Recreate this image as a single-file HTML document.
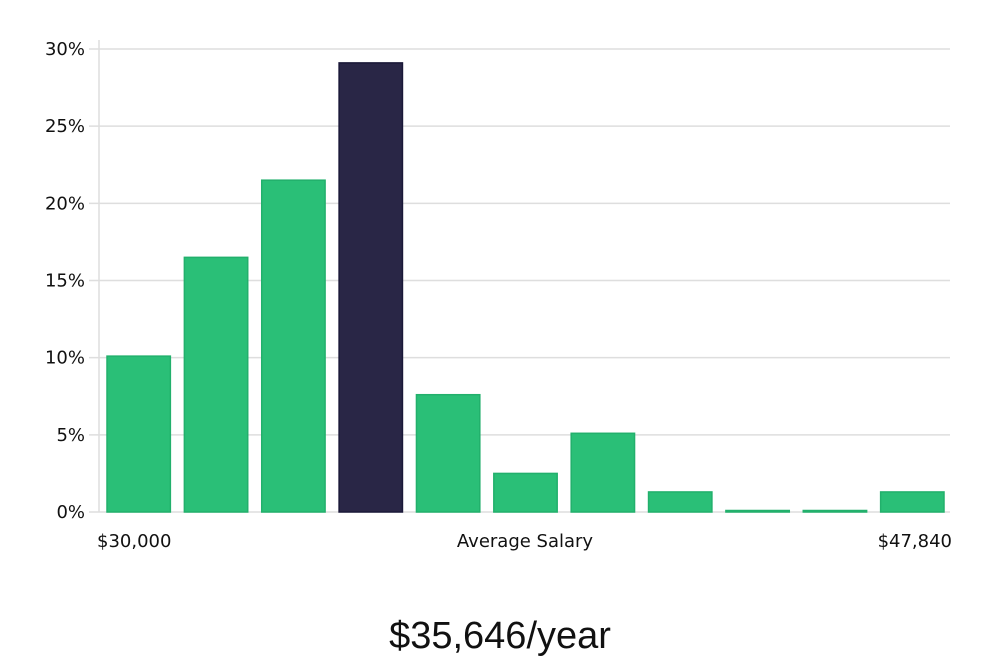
<!DOCTYPE html>
<html><head><meta charset="utf-8"><style>
body{margin:0;background:#fff;width:1000px;height:660px;overflow:hidden}
svg text{font-family:"DejaVu Sans","Liberation Sans",sans-serif;fill:#111}
</style></head><body>
<svg id="chart" width="1000" height="660" xmlns="http://www.w3.org/2000/svg">
<g id="grid"></g><g id="bars"></g><g id="axes"></g>
<text x="97" y="547" font-size="18">$30,000</text>
<text x="525" y="547" font-size="18" text-anchor="middle">Average Salary</text>
<text x="952" y="547" font-size="18" text-anchor="end">$47,840</text>
<text x="500" y="648" font-size="38" text-anchor="middle" style="font-family:'Liberation Sans',sans-serif;font-weight:300">$35,646/year</text>
</svg>
<script>
const categories=["b1","b2","b3","b4","b5","b6","b7","b8","b9","b10","b11"];
const values=[10.1,16.5,21.5,29.1,7.6,2.5,5.1,1.3,0.05,0.05,1.3];
const highlightIndex=3;
const yTicks=[0,5,10,15,20,25,30];
const yTickLabels=["0%","5%","10%","15%","20%","25%","30%"];
const NS="http://www.w3.org/2000/svg";
const x0=99,x1=950,y0=512,y1=49,yMax=30;
const y=v=>y0-(v/yMax)*(y0-y1);
const band=(x1-x0)/categories.length;
const xb=i=>x0+i*band;
function mk(t,a,p){const e=document.createElementNS(NS,t);for(const k in a)e.setAttribute(k,a[k]);p.appendChild(e);return e;}
const grid=document.getElementById('grid'),bars=document.getElementById('bars'),axes=document.getElementById('axes');
yTicks.forEach((t,i)=>{
 const l=mk('line',{x1:89,x2:x1,y1:y(t),y2:y(t),stroke:'#dedede','stroke-width':1.5},grid);
 
 
 const tx=mk('text',{x:85,y:y(t)+6,'font-size':18,'text-anchor':'end'},axes);
 tx.textContent=yTickLabels[i];
 
 
});
const ax=mk('line',{x1:x0,x2:x0,y1:40,y2:y0,stroke:'#dedede','stroke-width':1.5},axes);


values.forEach((v,i)=>{
 const hi=i===highlightIndex;
 const h=Math.max(1.5,y0-y(v));
 const r=mk('rect',{x:xb(i)+8,y:y0-h,width:band-14,height:h,fill:hi?'#292646':'#2abf77',stroke:hi?'#1a1838':'#22b06c','stroke-width':1.5},bars);
 
 
});
</script>
</body></html>
